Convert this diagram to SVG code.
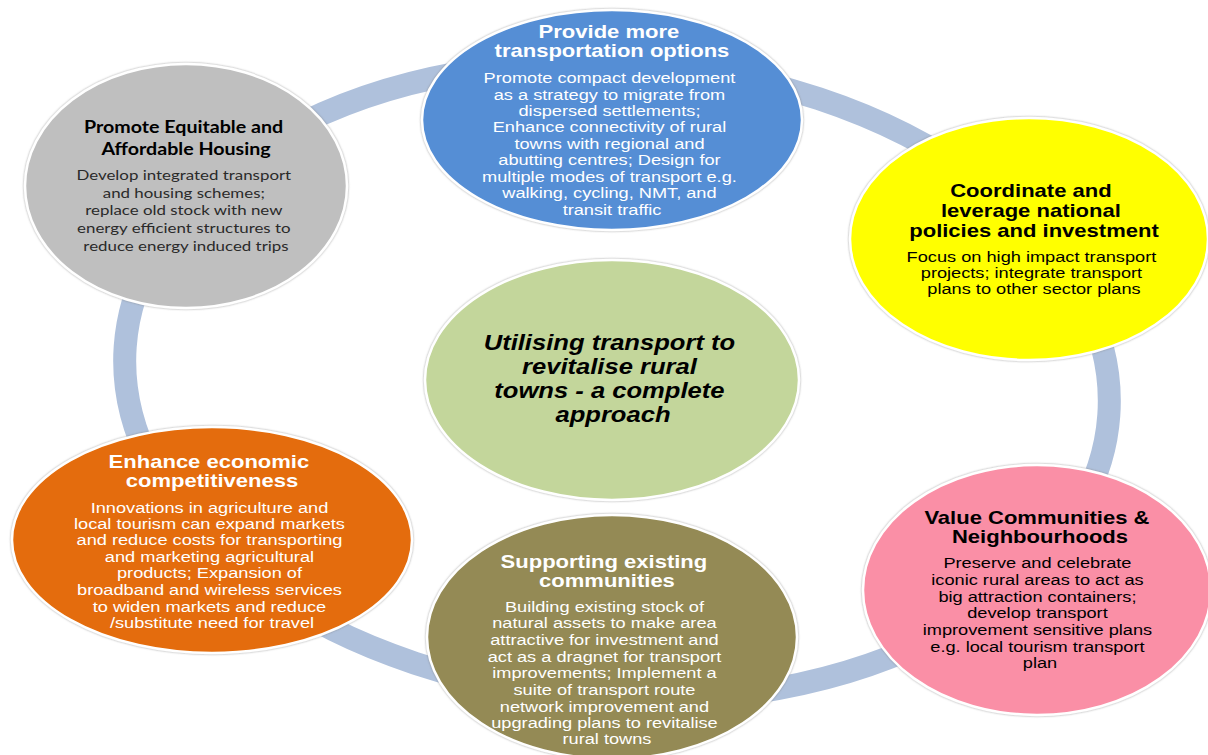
<svg xmlns="http://www.w3.org/2000/svg" width="1208" height="755" viewBox="0 0 1208 755">
<defs>
<filter id="sh" x="-5%" y="-5%" width="110%" height="110%">
<feDropShadow dx="0" dy="0" stdDeviation="1.2" flood-color="#777" flood-opacity="0.7"/>
</filter>
<style>
.shape{stroke:#fff;stroke-width:2.5;filter:url(#sh)}
.ring{fill:none;stroke:#AFC1DC;stroke-width:23}
text{text-anchor:middle}
.a{font-family:"Liberation Sans",Arial,sans-serif}
.l{font-family:Lato,"Liberation Sans",sans-serif}
.t{font-weight:bold;font-size:18.5px}
.b{font-size:15.3px}
.w{fill:#fff}
.k{fill:#000}
</style>
</defs>
<rect width="1208" height="755" fill="#fff"/>
<g id="connectors">
<ellipse class="ring" cx="617" cy="381" rx="493" ry="318" transform="rotate(4 617 381)"/>
</g>
<g id="center">
<ellipse class="shape" cx="612" cy="380" rx="187" ry="120" fill="#C3D69B"/>
<g transform="matrix(1.19 0 0 1 -116.47 0)">
<text class="a k" font-weight="bold" font-style="italic" font-size="21.5">
<tspan x="613" y="350">Utilising transport to</tspan>
<tspan x="613" y="374">revitalise rural</tspan>
<tspan x="613" y="398">towns - a complete</tspan>
<tspan x="613" y="422">approach</tspan>
</text>
</g>
</g>
<g id="node-housing">
<ellipse class="shape" cx="186" cy="186" rx="161" ry="122" fill="#BFBFBF"/>
<g transform="matrix(1.19 0 0 1 -35.34 0)">
<text class="l k" font-weight="bold" font-size="16.5">
<tspan x="186" y="133">Promote Equitable and</tspan>
<tspan x="186" y="155">Affordable Housing</tspan>
</text>
<text class="l" fill="#2a2a2a" font-size="14.2">
<tspan x="186" y="180">Develop integrated transport</tspan>
<tspan x="186" y="198">and housing schemes;</tspan>
<tspan x="186" y="215">replace old stock with new</tspan>
<tspan x="186" y="233">energy efficient structures to</tspan>
<tspan x="186" y="251">reduce energy induced trips</tspan>
</text>
</g>
</g>
<g id="node-transport">
<ellipse class="shape" cx="612" cy="120" rx="190" ry="110" fill="#558ED5"/>
<g transform="matrix(1.19 0 0 1 -116.28 0)">
<text class="a w t">
<tspan x="612" y="38">Provide more</tspan>
<tspan x="612" y="57">transportation options</tspan>
</text>
<text class="a w b">
<tspan x="612" y="83">Promote compact development</tspan>
<tspan x="612" y="100">as a strategy to migrate from</tspan>
<tspan x="612" y="116">dispersed settlements;</tspan>
<tspan x="612" y="132">Enhance connectivity of rural</tspan>
<tspan x="612" y="149">towns with regional and</tspan>
<tspan x="612" y="165">abutting centres; Design for</tspan>
<tspan x="612" y="182">multiple modes of transport e.g.</tspan>
<tspan x="612" y="198">walking, cycling, NMT, and</tspan>
<tspan x="612" y="215">transit traffic</tspan>
</text>
</g>
</g>
<g id="node-policies">
<ellipse class="shape" cx="1029" cy="239" rx="179" ry="121" fill="#FFFF00"/>
<g transform="matrix(1.19 0 0 1 -196.46 0)">
<text class="a k t">
<tspan x="1034" y="197">Coordinate and</tspan>
<tspan x="1034" y="217">leverage national</tspan>
<tspan x="1034" y="237">policies and investment</tspan>
</text>
<text class="a k b">
<tspan x="1034" y="262">Focus on high impact transport</tspan>
<tspan x="1034" y="278">projects; integrate transport</tspan>
<tspan x="1034" y="294">plans to other sector plans</tspan>
</text>
</g>
</g>
<g id="node-communities">
<ellipse class="shape" cx="1037" cy="590" rx="174" ry="125" fill="#FA8FA6"/>
<g transform="matrix(1.19 0 0 1 -197.6 0)">
<text class="a k t">
<tspan x="1040" y="524">Value Communities &amp;</tspan>
<tspan x="1040" y="543">Neighbourhoods</tspan>
</text>
<text class="a k b">
<tspan x="1040" y="568">Preserve and celebrate</tspan>
<tspan x="1040" y="585">iconic rural areas to act as</tspan>
<tspan x="1040" y="602">big attraction containers;</tspan>
<tspan x="1040" y="618">develop transport</tspan>
<tspan x="1040" y="635">improvement sensitive plans</tspan>
<tspan x="1040" y="652">e.g. local tourism transport</tspan>
<tspan x="1040" y="668">plan</tspan>
</text>
</g>
</g>
<g id="node-existing">
<ellipse class="shape" cx="612" cy="637" rx="185" ry="122" fill="#948A54"/>
<g transform="matrix(1.19 0 0 1 -115.33 0)">
<text class="a w t">
<tspan x="607" y="568">Supporting existing</tspan>
<tspan x="607" y="587">communities</tspan>
</text>
<text class="a w b">
<tspan x="607" y="612">Building existing stock of</tspan>
<tspan x="607" y="628">natural assets to make area</tspan>
<tspan x="607" y="645">attractive for investment and</tspan>
<tspan x="607" y="662">act as a dragnet for transport</tspan>
<tspan x="607" y="678">improvements; Implement a</tspan>
<tspan x="607" y="695">suite of transport route</tspan>
<tspan x="607" y="712">network improvement and</tspan>
<tspan x="607" y="728">upgrading plans to revitalise</tspan>
<tspan x="607" y="744">rural towns</tspan>
</text>
</g>
</g>
<g id="node-economic">
<ellipse class="shape" cx="212" cy="540" rx="200" ry="113" fill="#E46C0A"/>
<g transform="matrix(1.19 0 0 1 -40.28 0)">
<text class="a w t">
<tspan x="212" y="468">Enhance economic</tspan>
<tspan x="212" y="487">competitiveness</tspan>
</text>
<text class="a w b">
<tspan x="212" y="513">Innovations in agriculture and</tspan>
<tspan x="212" y="529">local tourism can expand markets</tspan>
<tspan x="212" y="545">and reduce costs for  transporting</tspan>
<tspan x="212" y="562">and marketing agricultural</tspan>
<tspan x="212" y="578">products; Expansion of</tspan>
<tspan x="212" y="595">broadband and wireless services</tspan>
<tspan x="212" y="612">to widen markets and reduce</tspan>
<tspan x="212" y="628">/substitute need for travel</tspan>
</text>
</g>
</g>
</svg>
